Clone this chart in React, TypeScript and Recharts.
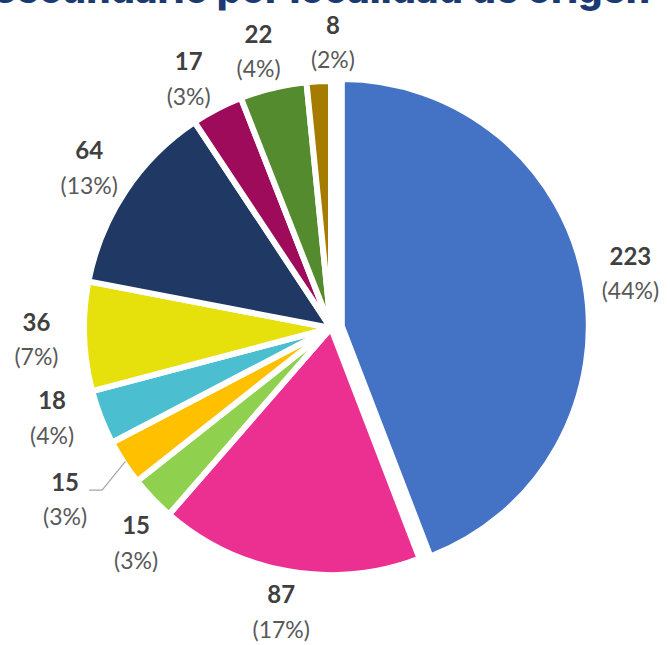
import { PieChart, Pie, Cell } from 'recharts';

const localidades = [
  'Localidad 1', 'Localidad 2', 'Localidad 3', 'Localidad 4', 'Localidad 5',
  'Localidad 6', 'Localidad 7', 'Localidad 8', 'Localidad 9', 'Localidad 10',
];
const alumnos = [223, 87, 15, 15, 18, 36, 64, 17, 22, 8];
const colores = [
  '#4472C4', '#EC3091', '#8FD14F', '#FFC000', '#4BBFD0',
  '#E6E00C', '#203864', '#9E0B5B', '#558B2F', '#A67C00',
];
const titulo = 'secundario por localidad de origen';

const W = 670;
const H = 645;
const CX = 331;
const CY = 328;
const R = 247;
const EXPLODE = 11; // first slice is pulled out of the pie
const MIN_SEP = 15; // min degrees between neighbouring labels

const total = alumnos.reduce((s, v) => s + v, 0);
const data = localidades.map((name, i) => ({
  name,
  value: alumnos[i],
  pct: Math.round((alumnos[i] / total) * 100),
}));

// mid angle of each slice, degrees clockwise from 12 o'clock
const mids = alumnos.map((v, i) => {
  const before = alumnos.slice(0, i).reduce((s, x) => s + x, 0);
  return ((before + v / 2) / total) * 360;
});
const rad = (deg: number) => (deg * Math.PI) / 180;
const BX = CX + Math.sin(rad(mids[0])) * EXPLODE;
const BY = CY - Math.cos(rad(mids[0])) * EXPLODE;

type Lbl = { x: number; y: number; w: number; sx: number; sy: number; leader: boolean };

function layoutLabels(): Lbl[] {
  // spread crowded labels apart a little
  const ang = [...mids];
  for (let k = 0; k < 200; k++) {
    for (let i = 0; i < ang.length - 1; i++) {
      const gap = ang[i + 1] - ang[i];
      if (gap < MIN_SEP) {
        const p = (MIN_SEP - gap) / 2;
        ang[i] -= p;
        ang[i + 1] += p;
      }
    }
  }
  const out: Lbl[] = [];
  data.forEach((d, i) => {
    const a = rad(ang[i]);
    const dx = Math.sin(a);
    const dy = -Math.cos(a);
    const ox = i === 0 ? BX : CX;
    const oy = i === 0 ? BY : CY;
    const w = `(${d.pct}%)`.length * 12.5;
    const t0 = R + 48 - 8 * Math.abs(Math.cos(a));
    let t = t0;
    let x = ox + dx * t;
    let y = oy + dy * t;
    const hit = () =>
      out.some((o) => Math.abs(o.x - x) < (o.w + w) / 2 + 4 && Math.abs(o.y - y) < 58);
    while (hit() && t < t0 + 120) {
      t += 1;
      x = ox + dx * t;
      y = oy + dy * t;
    }
    const leader = t - t0 > 3;
    if (leader) {
      t += 20;
      x = ox + dx * t;
      y = oy + dy * t;
    }
    const m = rad(mids[i]);
    out.push({ x, y, w, sx: ox + Math.sin(m) * (R - 2), sy: oy - Math.cos(m) * (R - 2), leader });
  });
  return out;
}

const lbls = layoutLabels();
const FONT = "Lato, 'Open Sans', sans-serif";

const renderLabel = (props: any) => {
  const i = props.index as number;
  const l = lbls[i];
  const d = data[i];
  if (!l) return null;
  const right = l.x + l.w / 2;
  return (
    <g>
      {l.leader && (
        <polyline
          points={`${l.sx},${l.sy} ${right + 12},${l.y - 8} ${right - 1},${l.y - 8}`}
          fill="none"
          stroke="#A6A6A6"
          strokeWidth={1.2}
        />
      )}
      <text x={l.x} y={l.y - 17} textAnchor="middle" dominantBaseline="central"
        fontFamily={FONT} fontSize={24} fontWeight={700} fill="#404040">
        {d.value}
      </text>
      <text x={l.x} y={l.y + 18} textAnchor="middle" dominantBaseline="central"
        fontFamily={FONT} fontSize={23} fill="#595959">
        {`(${d.pct}%)`}
      </text>
    </g>
  );
};

export default function App() {
  return (
    <div style={{ position: 'absolute', left: 0, top: 0, width: W, height: H, overflow: 'hidden', background: '#fff' }}>
      <PieChart width={W} height={H} margin={{ top: 0, right: 0, bottom: 0, left: 0 }}>
        <Pie
          data={data}
          dataKey="value"
          nameKey="name"
          cx={CX}
          cy={CY}
          outerRadius={R}
          startAngle={90}
          endAngle={-270}
          stroke="#fff"
          strokeWidth={6}
          label={renderLabel}
          labelLine={false}
          isAnimationActive={false}
        >
          {data.map((d, i) => (
            <Cell key={d.name} fill={i === 0 ? 'transparent' : colores[i]} stroke={i === 0 ? 'none' : '#fff'} />
          ))}
        </Pie>
        <Pie
          data={data}
          dataKey="value"
          nameKey="name"
          cx={BX}
          cy={BY}
          outerRadius={R}
          startAngle={90}
          endAngle={-270}
          stroke="#fff"
          strokeWidth={6}
          isAnimationActive={false}
        >
          {data.map((d, i) => (
            <Cell key={d.name} fill={i === 0 ? colores[0] : 'transparent'} stroke={i === 0 ? '#fff' : 'none'} />
          ))}
        </Pie>
      </PieChart>
      <svg width={W} height={30} style={{ position: 'absolute', left: 0, top: 0 }}>
        <text x={-6} y={3} textLength={656} lengthAdjust="spacingAndGlyphs"
          fontFamily="Inter, 'Open Sans', sans-serif" fontSize={38} fontWeight={800} fill="#1B3A73">
          {titulo}
        </text>
      </svg>
    </div>
  );
}
